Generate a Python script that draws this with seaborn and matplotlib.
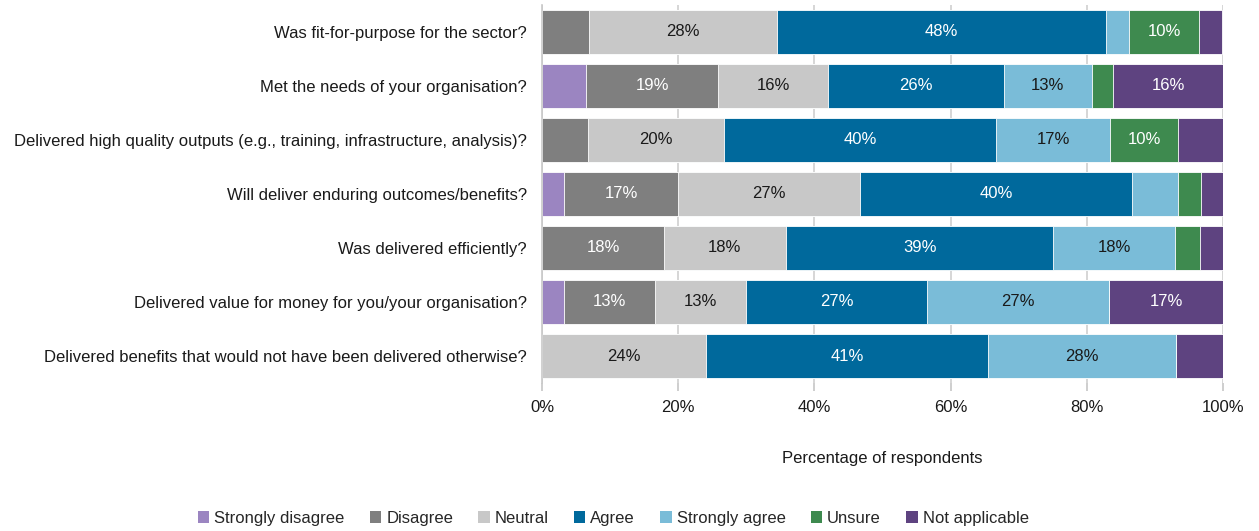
import numpy as np
import pandas as pd
import matplotlib
matplotlib.use("Agg")
import matplotlib.pyplot as plt
from matplotlib.patches import Patch
import seaborn as sns

questions = [
    "Was fit-for-purpose for the sector?",
    "Met the needs of your organisation?",
    "Delivered high quality outputs (e.g., training, infrastructure, analysis)?",
    "Will deliver enduring outcomes/benefits?",
    "Was delivered efficiently?",
    "Delivered value for money for you/your organisation?",
    "Delivered benefits that would not have been delivered otherwise?",
]
responses = ["Strongly disagree", "Disagree", "Neutral", "Agree",
             "Strongly agree", "Unsure", "Not applicable"]

strongly_disagree = [0.0, 6.5, 0.0, 3.3, 0.0, 3.3, 0.0]
disagree = [6.9, 19.4, 6.7, 16.7, 17.9, 13.3, 0.0]
neutral = [27.6, 16.1, 20.0, 26.7, 17.9, 13.3, 24.1]
agree = [48.3, 25.8, 40.0, 40.0, 39.3, 26.7, 41.4]
strongly_agree = [3.4, 12.9, 16.7, 6.7, 17.9, 26.7, 27.6]
unsure = [10.3, 3.2, 10.0, 3.3, 3.6, 0.0, 0.0]
not_applicable = [3.4, 16.1, 6.7, 3.3, 3.6, 16.7, 6.9]

colors = ["#9b85c1", "#7f7f7f", "#c8c8c8", "#00699c",
          "#7abcd8", "#3e8a4f", "#5e4380"]
text_colors = ["white", "white", "#1a1a1a", "white",
               "#1a1a1a", "white", "white"]

values = np.array([strongly_disagree, disagree, neutral, agree,
                   strongly_agree, unsure, not_applicable])
cum = np.cumsum(values, axis=0)

sns.set_theme(style="white")
plt.rcParams["font.family"] = ["Liberation Sans", "DejaVu Sans"]

fig = plt.figure(figsize=(12.59, 5.31), dpi=100)
ax = fig.add_axes([0.4305, 0.2787, 0.5409, 0.712])

# stacked bars: draw cumulative totals from the outermost layer inward
for k in range(len(responses) - 1, -1, -1):
    df = pd.DataFrame({"question": questions, "total": cum[k]})
    sns.barplot(data=df, x="total", y="question", orient="h",
                color=colors[k], saturation=1, width=0.83,
                edgecolor="white", linewidth=0.6, ax=ax, zorder=2)

# value labels for segments of 10% or more
for k in range(len(responses)):
    for i in range(len(questions)):
        v = values[k, i]
        if v >= 9.5:
            centre = cum[k, i] - v / 2
            ax.text(centre, i, f"{v:.0f}%", ha="center", va="center",
                    color=text_colors[k], fontsize=12, zorder=3)

ax.set_xlim(0, 100)
ax.set_ylim(len(questions) - 0.5, -0.5)
ax.set_xticks(np.arange(0, 101, 20))
ax.set_xticklabels([f"{t}%" for t in range(0, 101, 20)], fontsize=12, color="#1a1a1a")
ax.tick_params(axis="x", which="both", length=6, color="#c8c8c8", pad=6, direction="out",
               bottom=True)
ax.tick_params(axis="y", length=0, labelsize=12, labelcolor="#1a1a1a", pad=11)
ax.grid(axis="x", color="#d0d0d0", linewidth=1.2, zorder=0)
ax.set_axisbelow(True)
for side in ["top", "right"]:
    ax.spines[side].set_visible(False)
ax.spines["bottom"].set_visible(False)
ax.spines["left"].set_color("#c8c8c8")
ax.spines["left"].set_linewidth(1.2)
ax.set_ylabel("")
ax.set_xlabel("Percentage of respondents", fontsize=12, color="#1a1a1a", labelpad=26)

handles = [Patch(facecolor=c, edgecolor="none", label=r) for c, r in zip(colors, responses)]
fig.legend(handles=handles, loc="center", bbox_to_anchor=(0.487, 0.024), ncol=7,
           frameon=False, fontsize=12, handlelength=0.7, handleheight=0.7,
           handletextpad=0.3, columnspacing=1.5)

fig.savefig("out.png", dpi=100)
